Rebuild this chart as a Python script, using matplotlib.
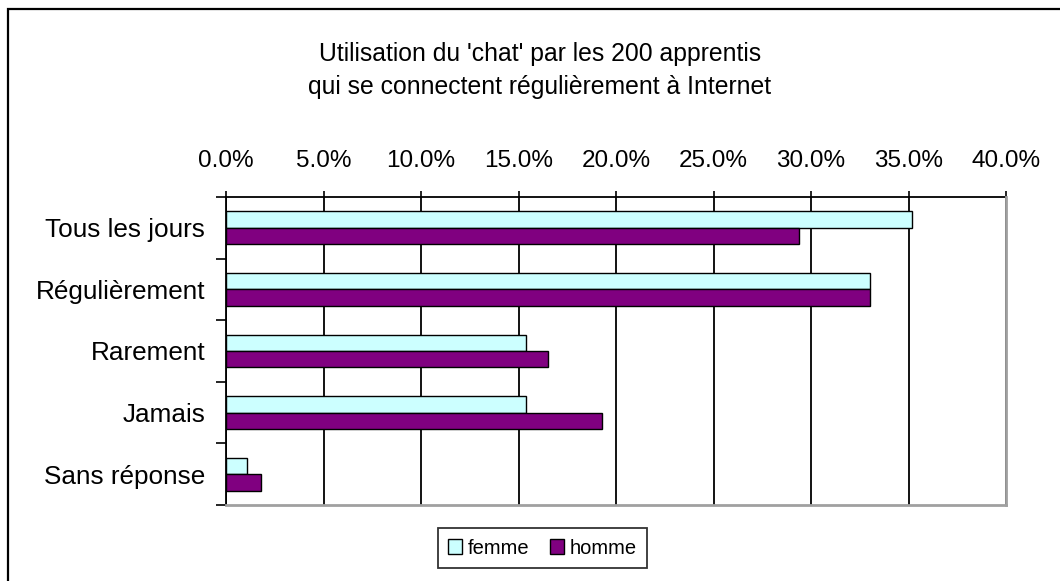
import matplotlib
matplotlib.use("Agg")
import matplotlib.pyplot as plt
import matplotlib.patches as patches
import numpy as np

plt.rcParams['font.family'] = ['Liberation Sans', 'DejaVu Sans']

# data (percent of each group)
categories = ['Tous les jours', 'Régulièrement', 'Rarement', 'Jamais', 'Sans réponse']
femme = [35.2, 33.0, 15.4, 15.4, 1.1]
homme = [29.4, 33.0, 16.5, 19.3, 1.8]
xticks = [0, 5, 10, 15, 20, 25, 30, 35, 40]
title_lines = ["Utilisation du 'chat' par les 200 apprentis",
               "qui se connectent régulièrement à Internet"]

W, H = 1060, 581
fig = plt.figure(figsize=(W / 100, H / 100), dpi=100)
fig.patch.set_facecolor('white')

# outer chart frame (cut off at right/bottom in the reference)
frame = patches.Rectangle((7.5 / W, -0.05), 1.1, 1 - 9 / H + 0.05,
                          transform=fig.transFigure, fill=False,
                          edgecolor='black', linewidth=1.6)
fig.patches.append(frame)

ax = fig.add_axes([226 / W, 1 - 505 / H, 780 / W, 308 / H])

y = np.arange(len(categories))
h = 0.265
ax.barh(y - h / 2, femme, height=h, color='#CCFFFF', edgecolor='black',
        linewidth=1, label='femme', zorder=3)
ax.barh(y + h / 2, homme, height=h, color='#800080', edgecolor='black',
        linewidth=1, label='homme', zorder=3)

ax.set_xlim(0, 40)
ax.set_ylim(len(categories) - 0.5, -0.5)

ax.xaxis.tick_top()
ax.set_xticks(xticks)
ax.set_xticklabels(['%.1f%%' % v for v in xticks])
ax.tick_params(axis='x', which='major', direction='out', length=4,
               width=1.2, pad=14, labelsize=17.5, color='black')

ax.set_yticks(np.arange(len(categories) + 1) - 0.5)
ax.set_yticklabels([])
ax.set_yticks(y, minor=True)
ax.set_yticklabels(categories, minor=True)
ax.tick_params(axis='y', which='major', direction='out', length=7,
               width=1.2, color='black')
ax.tick_params(axis='y', which='minor', length=0, pad=15, labelsize=18.8)

ax.grid(axis='x', color='black', linewidth=1.3)
ax.set_axisbelow(True)

for s in ['top', 'left']:
    ax.spines[s].set_color('black')
    ax.spines[s].set_linewidth(1.3)
for s in ['right', 'bottom']:
    ax.spines[s].set_color('#a0a0a0')
    ax.spines[s].set_linewidth(2)
    ax.spines[s].set_zorder(4)

fig.text(540 / W, 1 - 61 / H, title_lines[0], ha='center', va='baseline',
         fontsize=17.8)
fig.text(540 / W, 1 - 94 / H, title_lines[1], ha='center', va='baseline',
         fontsize=17.8)

leg = fig.legend(loc='center', bbox_to_anchor=(542.5 / W, 1 - 548 / H),
                 ncol=2, fontsize=14.5, frameon=True, fancybox=False,
                 handlelength=0.7, handleheight=0.7, handletextpad=0.3,
                 columnspacing=1.0, borderpad=0.5)
leg.get_frame().set_edgecolor('black')
leg.get_frame().set_linewidth(1.3)

fig.savefig('out.png', dpi=100)
